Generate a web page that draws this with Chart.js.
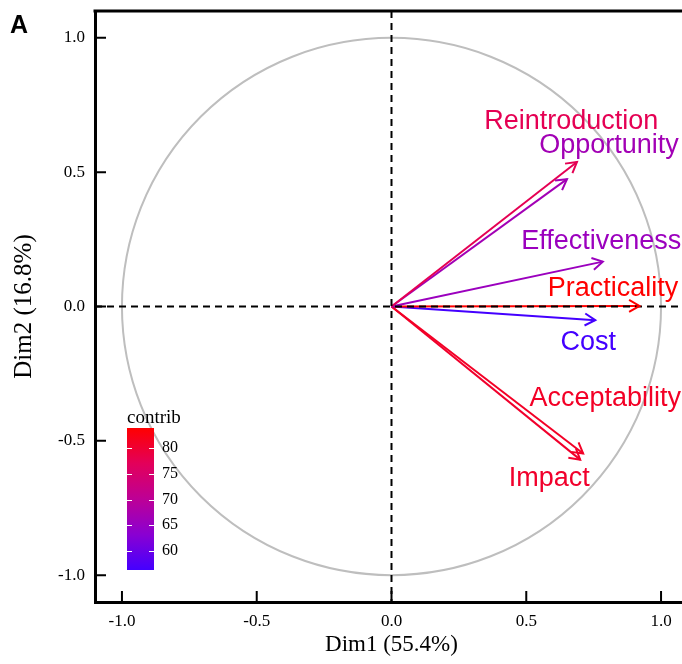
<!DOCTYPE html>
<html>
<head>
<meta charset="utf-8">
<script src="https://cdn.jsdelivr.net/npm/chart.js@4.4.0/dist/chart.umd.min.js"></script>
<style>
  html, body { margin: 0; padding: 0; background: #fff; overflow: hidden; }
  #wrap { position: relative; width: 682px; height: 664px; overflow: hidden; }
  #pca { position: absolute; left: 0; top: 0; }
</style>
</head>
<body>
<div id="wrap"><canvas id="pca" width="690" height="664"></canvas></div>
<script>
// variable coordinates on Dim1 / Dim2 (correlation circle)
const variables = ['Reintroduction', 'Opportunity', 'Effectiveness', 'Practicality', 'Cost', 'Acceptability', 'Impact'];
const dim1 = [0.688, 0.651, 0.784, 0.920, 0.756, 0.711, 0.700];
const dim2 = [0.538, 0.474, 0.167, 0.002, -0.051, -0.547, -0.570];
const contrib = [77.5, 66.5, 65.5, 83.9, 56.3, 81.0, 80.5];
// where the repelled labels sit (same units as the axes)
const labelDim1 = [0.667, 0.807, 0.778, 0.822, 0.730, 0.793, 0.585];
const labelDim2 = [0.690, 0.600, 0.243, 0.065, -0.136, -0.344, -0.642];
const axisTicks = [-1.0, -0.5, 0.0, 0.5, 1.0];
const contribTicks = [60, 65, 70, 75, 80];
const contribRange = [56.3, 83.9];

const gradStops = ['#4400ff', '#8a00d2', '#bd0096', '#e3005a', '#ff0000'];

function hexRgb(h) {
  return [parseInt(h.slice(1, 3), 16), parseInt(h.slice(3, 5), 16), parseInt(h.slice(5, 7), 16)];
}
function contribColor(v) {
  let t = (v - contribRange[0]) / (contribRange[1] - contribRange[0]);
  t = Math.max(0, Math.min(1, t));
  const p = t * (gradStops.length - 1);
  const i = Math.min(Math.floor(p), gradStops.length - 2);
  const f = p - i;
  const a = hexRgb(gradStops[i]), b = hexRgb(gradStops[i + 1]);
  const c = a.map((x, k) => Math.round(x + (b[k] - x) * f));
  return 'rgb(' + c.join(',') + ')';
}

const colors = contrib.map(contribColor);

const datasets = variables.map((name, i) => ({
  label: name,
  data: [{ x: 0, y: 0 }, { x: dim1[i], y: dim2[i] }],
  showLine: true,
  borderColor: colors[i],
  borderWidth: 2,
  pointRadius: 0,
  pointHoverRadius: 0
}));

const decor = {
  id: 'decor',
  beforeDatasetsDraw(chart) {
    const { ctx, chartArea: a, scales: { x, y } } = chart;
    // unit circle
    const cx = x.getPixelForValue(0), cy = y.getPixelForValue(0);
    const rx = x.getPixelForValue(1) - cx, ry = cy - y.getPixelForValue(1);
    ctx.save();
    ctx.beginPath();
    ctx.rect(a.left, a.top, a.right - a.left, a.bottom - a.top);
    ctx.clip();
    ctx.strokeStyle = '#bebebe';
    ctx.lineWidth = 2;
    ctx.beginPath();
    ctx.ellipse(cx, cy, rx, ry, 0, 0, Math.PI * 2);
    ctx.stroke();
    ctx.restore();
  },
  afterDatasetsDraw(chart) {
    const { ctx, chartArea: a, scales: { x, y } } = chart;
    const cx = x.getPixelForValue(0), cy = y.getPixelForValue(0);
    ctx.save();

    // dashed zero lines
    ctx.strokeStyle = '#000';
    ctx.lineWidth = 2;
    ctx.setLineDash([7, 5]);
    ctx.beginPath();
    ctx.moveTo(a.left, cy); ctx.lineTo(a.right, cy);
    ctx.moveTo(cx, a.top); ctx.lineTo(cx, a.bottom);
    ctx.stroke();
    ctx.setLineDash([]);

    // arrow heads
    chart.data.datasets.forEach((ds, i) => {
      const pts = chart.getDatasetMeta(i).data;
      const p0 = pts[0], p1 = pts[1];
      const ang = Math.atan2(p1.y - p0.y, p1.x - p0.x);
      const len = 12, spread = Math.PI / 6;
      ctx.strokeStyle = ds.borderColor;
      ctx.lineWidth = 2;
      ctx.beginPath();
      ctx.moveTo(p1.x - len * Math.cos(ang - spread), p1.y - len * Math.sin(ang - spread));
      ctx.lineTo(p1.x, p1.y);
      ctx.lineTo(p1.x - len * Math.cos(ang + spread), p1.y - len * Math.sin(ang + spread));
      ctx.stroke();
    });

    // labels
    ctx.font = '27px "Liberation Sans", Arial, sans-serif';
    ctx.textAlign = 'center';
    ctx.textBaseline = 'middle';
    variables.forEach((name, i) => {
      ctx.fillStyle = colors[i];
      ctx.fillText(name, x.getPixelForValue(labelDim1[i]), y.getPixelForValue(labelDim2[i]));
    });

    // inward ticks + top frame line
    ctx.strokeStyle = '#000';
    ctx.lineWidth = 2;
    ctx.beginPath();
    axisTicks.forEach(v => {
      const px = x.getPixelForValue(v);
      ctx.moveTo(px, a.bottom); ctx.lineTo(px, a.bottom - 11);
      const py = y.getPixelForValue(v);
      ctx.moveTo(a.left, py); ctx.lineTo(a.left + 11, py);
    });
    ctx.stroke();
    ctx.lineWidth = 3;
    ctx.beginPath();
    ctx.moveTo(a.left - 1.5, a.top); ctx.lineTo(a.right, a.top);
    ctx.stroke();

    // colour bar legend
    const barL = 127, barR = 154, barT = 428, barB = 570;
    const vy = v => barB - (v - contribRange[0]) / (contribRange[1] - contribRange[0]) * (barB - barT);
    const g = ctx.createLinearGradient(0, barB, 0, barT);
    gradStops.forEach((c, k) => g.addColorStop(k / (gradStops.length - 1), c));
    ctx.fillStyle = g;
    ctx.fillRect(barL, barT, barR - barL, barB - barT);
    ctx.strokeStyle = '#fff';
    ctx.lineWidth = 1;
    ctx.beginPath();
    contribTicks.forEach(v => {
      const py = Math.round(vy(v)) + 0.5;
      ctx.moveTo(barL, py); ctx.lineTo(barL + 5, py);
      ctx.moveTo(barR - 5, py); ctx.lineTo(barR, py);
    });
    ctx.stroke();
    ctx.fillStyle = '#000';
    ctx.textAlign = 'left';
    ctx.font = '16px "Liberation Serif", "Times New Roman", serif';
    contribTicks.forEach(v => ctx.fillText(String(v), barL + 35, vy(v)));
    ctx.font = '19px "Liberation Serif", "Times New Roman", serif';
    ctx.textBaseline = 'alphabetic';
    ctx.fillText('contrib', barL, 423);

    // panel tag
    ctx.font = 'bold 25px "Liberation Sans", Arial, sans-serif';
    ctx.fillText('A', 10, 33);
    ctx.restore();
  }
};

const serif = '"Liberation Serif", "Times New Roman", serif';

new Chart(document.getElementById('pca'), {
  type: 'scatter',
  data: { datasets },
  options: {
    responsive: false,
    animation: false,
    devicePixelRatio: 1,
    layout: { padding: { top: 11, right: 2, left: 0, bottom: 0 } },
    plugins: { legend: { display: false }, tooltip: { enabled: false } },
    scales: {
      x: {
        type: 'linear', min: -1.1, max: 1.1,
        afterBuildTicks: s => { s.ticks = axisTicks.map(v => ({ value: v })); },
        afterFit: s => { s.height = 62; s.paddingLeft = 0; s.paddingRight = 0; },
        grid: { display: false, drawTicks: false },
        border: { display: true, color: '#000', width: 3 },
        ticks: { color: '#000', padding: 9, font: { family: serif, size: 17 }, callback: v => Number(v).toFixed(1) },
        title: { display: true, text: 'Dim1 (55.4%)', color: '#000', font: { family: serif, size: 23 }, padding: { top: 0, bottom: 5 } }
      },
      y: {
        type: 'linear', min: -1.1, max: 1.1,
        afterBuildTicks: s => { s.ticks = axisTicks.map(v => ({ value: v })); },
        afterFit: s => { s.width = 95; s.paddingTop = 0; s.paddingBottom = 0; },
        grid: { display: false, drawTicks: false },
        border: { display: true, color: '#000', width: 3 },
        ticks: { color: '#000', padding: 10, font: { family: serif, size: 17 }, callback: v => Number(v).toFixed(1) },
        title: { display: true, text: 'Dim2 (16.8%)', color: '#000', font: { family: serif, size: 25 }, padding: { top: 9, bottom: 0 } }
      }
    }
  },
  plugins: [decor]
});
</script>
</body>
</html>
